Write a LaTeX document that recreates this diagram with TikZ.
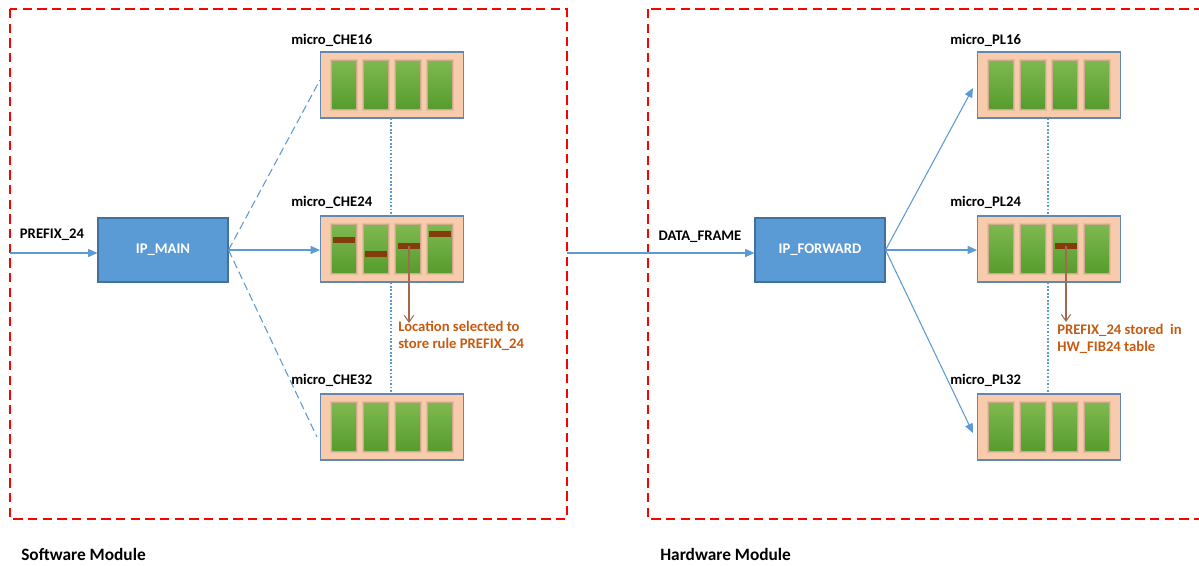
\documentclass[tikz,border=0pt]{standalone}
\usepackage{fontspec}
\setmainfont{Carlito}
\usetikzlibrary{arrows.meta,calc}

\definecolor{frameRed}{HTML}{FF0000}
\definecolor{ipFill}{HTML}{5B9BD5}
\definecolor{ipEdge}{HTML}{41719C}
\definecolor{memFill}{HTML}{F8CBAD}
\definecolor{memEdge}{HTML}{6287B0}
\definecolor{barTop}{HTML}{7DB84E}
\definecolor{barBot}{HTML}{589C2E}
\definecolor{barGlow}{HTML}{5E5A3A}
\definecolor{markBrown}{HTML}{843C0C}
\definecolor{noteOrange}{HTML}{C55A11}
\definecolor{linkBlue}{HTML}{5B9BD5}
\definecolor{pointerBrown}{HTML}{9E6B4E}

\tikzset{
  frame/.style={draw=frameRed, line width=2pt, dash pattern=on 7pt off 4pt},
  ipbox/.style={draw=ipEdge, fill=ipFill, line width=0.8pt, minimum width=97.5pt,
    minimum height=48pt, inner sep=0pt, text=white},
  membox/.style={draw=memEdge, fill=memFill, line width=0.8pt, minimum width=107.25pt,
    minimum height=49.5pt, inner sep=0pt},
  bar/.style={minimum width=17pt, minimum height=34.5pt, inner sep=0pt,
    top color=barTop, bottom color=barBot, draw=none,
    preaction={draw=barGlow, line width=4.5pt, draw opacity=0.12},
    preaction={draw=barGlow, line width=2.8pt, draw opacity=0.18},
    preaction={draw=barGlow, line width=1.2pt, draw opacity=0.25}},
  markbar/.style={fill=markBrown, draw=none, minimum width=17pt, minimum height=4pt,
    inner sep=0pt},
  lbl/.style={inner sep=0pt, text=black},
  note/.style={inner sep=0pt, text=noteOrange, align=left,
    font=\fontsize{11}{12.8}\selectfont\bfseries},
  caption/.style={inner sep=0pt, text=black, anchor=west,
    font=\fontsize{13}{15}\selectfont\bfseries},
  link/.style={draw=linkBlue, line width=0.8pt},
  linkarrow/.style={link, -{Triangle[length=7pt,width=6pt]}},
  dashlink/.style={draw=linkBlue, line width=0.8pt, dash pattern=on 6pt off 3pt},
  dotlink/.style={draw=linkBlue, line width=1.5pt, dash pattern=on 1.3pt off 1.3pt},
  pointer/.style={draw=pointerBrown, line width=0.8pt,
    -{Straight Barb[length=5pt,width=7pt]}},
}

\begin{document}
\begin{tikzpicture}[x=0.75pt, y=-0.75pt, font=\fontsize{11}{13}\selectfont\bfseries]
  \useasboundingbox (0,0) rectangle (1199,565);
  \clip (0,0) rectangle (1199,565);

  % module frames
  \draw[frame] (10,9) rectangle (567,519);
  \draw[frame] (648,9) rectangle (1215,519);

  % processing blocks
  \node[ipbox] (ipmain) at (163,250) {IP\_MAIN};
  \node[ipbox] (ipfwd) at (820,250) {IP\_FORWARD};

  % memory blocks
  \node[membox] (che16) at (392,85) {};
  \node[membox] (che24) at (392,249) {};
  \node[membox] (che32) at (392,427) {};
  \node[membox] (pl16) at (1049,85) {};
  \node[membox] (pl24) at (1049,249) {};
  \node[membox] (pl32) at (1049,427) {};

  % four slots in every memory block
  \foreach \b in {che16,che24,che32,pl16,pl24,pl32} {
    \foreach \i/\dx in {1/-48,2/-16,3/16,4/48} {
      \node[bar] (\b-b\i) at ($(\b)+(\dx,0)$) {};
    }
  }

  % occupied entries
  \node[markbar] (che24-m1) at ($(che24-b1)+(0,-9)$) {};
  \node[markbar] (che24-m2) at ($(che24-b2)+(0,5)$) {};
  \node[markbar] (che24-m3) at ($(che24-b3)+(1,-3)$) {};
  \node[markbar] (che24-m4) at ($(che24-b4)+(0,-15)$) {};
  \node[markbar] (pl24-m3) at ($(pl24-b3)+(1,-3)$) {};

  % block labels
  \node[lbl, anchor=west] (che16-lbl) at (291,40) {micro\_CHE16};
  \node[lbl, anchor=west] (che24-lbl) at (291,202) {micro\_CHE24};
  \node[lbl, anchor=west] (che32-lbl) at (291,380) {micro\_CHE32};
  \node[lbl, anchor=west] (pl16-lbl) at (950,40) {micro\_PL16};
  \node[lbl, anchor=west] (pl24-lbl) at (950,202) {micro\_PL24};
  \node[lbl, anchor=west] (pl32-lbl) at (950,380) {micro\_PL32};

  % vertical links between memory blocks
  \draw[dotlink] ($(che16.south)+(-1,0)$) -- ($(che24.north)+(-1,0)$);
  \draw[dotlink] ($(che24.south)+(-1,0)$) -- ($(che32.north)+(-1,0)$);
  \draw[dotlink] ($(pl16.south)+(-1,0)$) -- ($(pl24.north)+(-1,0)$);
  \draw[dotlink] ($(pl24.south)+(-1,0)$) -- ($(pl32.north)+(-1,0)$);

  % software side
  \coordinate (swin) at (10,253);
  \node[lbl] (prefix) at (52,235) {PREFIX\_24};
  \draw[linkarrow] (swin) -- (swin -| ipmain.west);
  \draw[linkarrow] (ipmain.east) -- (ipmain.east -| che24.west);
  \draw[dashlink] (ipmain.east) -- ($(che16.west)+(0,-5)$);
  \draw[dashlink] (ipmain.east) -- ($(che32.west)+(-3,10)$);

  % hardware side
  \coordinate (swout) at (567,253);
  \node[lbl] (dframe) at (700,237) {DATA\_FRAME};
  \draw[linkarrow] (swout) -- (swout -| ipfwd.west);
  \draw[linkarrow] (ipfwd.east) -- ($(pl16.west)+(-4,3)$);
  \draw[linkarrow] (ipfwd.east) -- (ipfwd.east -| pl24.west);
  \draw[linkarrow] (ipfwd.east) -- ($(pl32.west)+(-4,6)$);

  % annotations
  \path (che24-m3.center) ++(0,77) coordinate (che24-tip);
  \draw[pointer] (che24-m3.center) -- (che24-tip);
  \node[note, anchor=north west] (che24-note) at (398,321)
    {Location selected to\\store rule PREFIX\_24};
  \path (pl24-m3.center) ++(0,76) coordinate (pl24-tip);
  \draw[pointer] (pl24-m3.center) -- (pl24-tip);
  \node[note, anchor=north west] (pl24-note) at (1057,324)
    {PREFIX\_24 stored~ in\\HW\_FIB24 table};

  % module captions
  \node[caption] (swcap) at (21,554) {Software Module};
  \node[caption] (hwcap) at (660,554) {Hardware Module};
\end{tikzpicture}
\end{document}
